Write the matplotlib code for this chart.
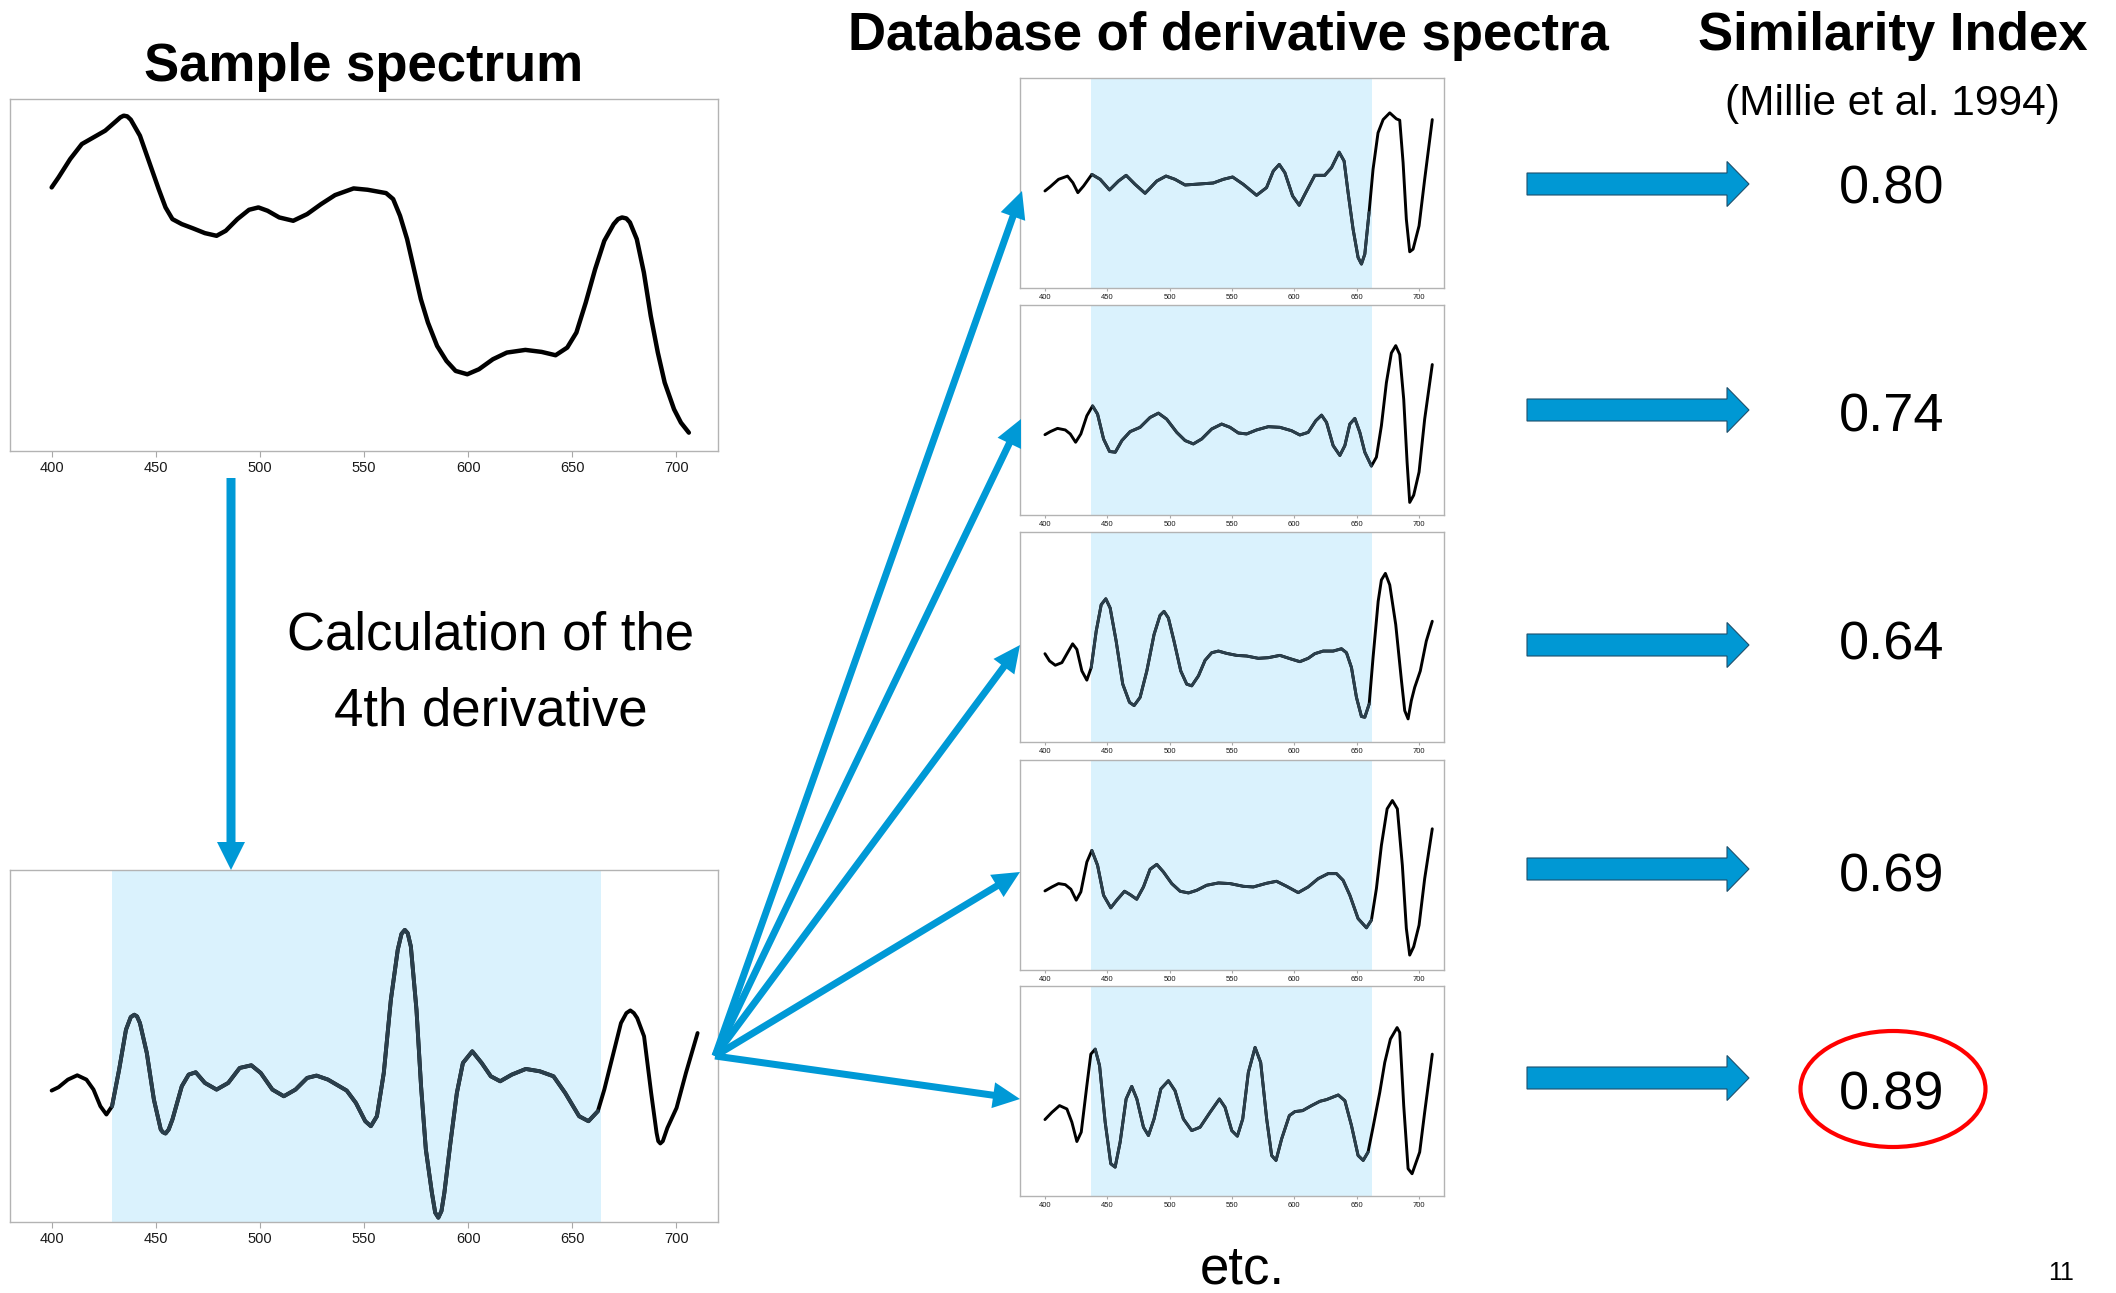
import matplotlib
matplotlib.use("Agg")
import numpy as np
import matplotlib.pyplot as plt
from matplotlib.patches import FancyArrow, Ellipse

# Sample absorption spectrum (wavelength nm, relative absorbance)
wl_sample = [400, 403.3, 408.9, 414.5, 420.1, 425.7, 431.2, 433, 434.6, 436.3, 438, 442.4,
             446.9, 451.4, 454.7, 458, 462.5, 468, 473.6, 479.2, 483.6, 489.2, 494.8, 499.3,
             503.7, 509.3, 516, 522.7, 529.4, 536.1, 545, 551.7, 560.6, 564, 567.3, 570.7,
             574, 577.3, 580.7, 585.1, 589.6, 594, 599.6, 605.2, 611.9, 618.6, 627.5, 635.3,
             642, 647.6, 652, 656.5, 661, 665.4, 669.9, 672, 673.9, 676, 677.7, 681, 684.4,
             687.7, 691.1, 694.4, 698.9, 702.2, 706]
abs_sample = [0.790, 0.82, 0.875, 0.92, 0.94, 0.96, 0.99, 1.0, 1.005, 1.003, 0.993, 0.945,
              0.865, 0.785, 0.73, 0.695, 0.68, 0.667, 0.653, 0.645, 0.66, 0.695, 0.723, 0.73,
              0.72, 0.70, 0.69, 0.71, 0.74, 0.767, 0.787, 0.783, 0.773, 0.755, 0.705, 0.635,
              0.545, 0.455, 0.385, 0.315, 0.27, 0.24, 0.23, 0.245, 0.275, 0.295, 0.303, 0.297,
              0.287, 0.31, 0.355, 0.445, 0.545, 0.63, 0.68, 0.695, 0.70, 0.697, 0.685, 0.635,
              0.535, 0.405, 0.295, 0.205, 0.125, 0.085, 0.055]

# 4th derivative of the sample spectrum
wl_d4 = [400, 403.3, 407.8, 412.3, 416.7, 420.1, 423.4, 426.3, 429, 432.4, 435.7, 438,
         439.7, 441, 442.4, 445.7, 449.1, 452.4, 453.4, 454.7, 456.2, 458, 462.5, 465.8,
         469.2, 473.6, 479.2, 484.8, 490.3, 495.9, 500.4, 506, 511.5, 517.1, 522.7, 527.2,
         532.7, 541.7, 546.1, 550.6, 553.3, 556.2, 559.5, 562.9, 566.2, 568, 569.6, 571,
         572.5, 575.2, 577.4, 579.7, 582.6, 584.2, 585.7, 587.2, 588.6, 591.5, 594.6, 597.5,
         602, 606.5, 610.9, 615.4, 621, 627.7, 634.4, 641, 646.6, 653.3, 657.8, 662.3, 665.4,
         669, 673.4, 676, 677.9, 679.6, 681.2, 684.5, 687.9, 690.5, 691.3, 692.3, 693.5,
         695.7, 700.1, 704.6, 710.2]
d4_sample = [0.007, 0.017, 0.04, 0.053, 0.04, 0.01, -0.04, -0.065, -0.04, 0.07, 0.19, 0.228,
             0.235, 0.23, 0.21, 0.12, -0.02, -0.11, -0.118, -0.122, -0.11, -0.08, 0.02, 0.055,
             0.062, 0.03, 0.01, 0.03, 0.075, 0.083, 0.06, 0.01, -0.01, 0.01, 0.045, 0.052,
             0.04, 0.007, -0.03, -0.085, -0.10, -0.07, 0.06, 0.28, 0.43, 0.478, 0.49, 0.48,
             0.44, 0.25, 0.02, -0.17, -0.30, -0.36, -0.375, -0.355, -0.30, -0.15, 0.0, 0.09,
             0.125, 0.09, 0.05, 0.035, 0.055, 0.072, 0.065, 0.05, 0.0, -0.07, -0.085, -0.055,
             0.01, 0.10, 0.21, 0.24, 0.248, 0.24, 0.225, 0.17, 0.0, -0.12, -0.145, -0.152,
             -0.145, -0.105, -0.045, 0.06, 0.18]

# Reference library: 4th derivative spectra (normalised units)
db1_wl = [400, 404.3, 410.9, 418.1, 422.4, 426.4, 431, 437.6, 444.3, 451.8, 459, 465.1, 472.3,
          480.3, 489.7, 497.1, 504.3, 512.4, 524.4, 535, 543, 550.5, 559.1, 569.7, 577.7,
          583.1, 587.9, 592.4, 598.6, 603.9, 608.4, 616.4, 624.4, 629.8, 635.9, 639.9, 643.1,
          647.1, 651.1, 653.8, 656.5, 659.9, 663.1, 667.1, 671.2, 676.5, 681.8, 684.5, 687.2,
          689.8, 692.5, 695.2, 700, 704.5, 710.6]
db1_d4 = [-0.076, -0.035, 0.035, 0.066, 0.003, -0.092, -0.028, 0.082, 0.035, -0.066, 0.019,
          0.073, -0.013, -0.098, 0.019, 0.066, 0.035, -0.019, -0.009, 0.0, 0.035, 0.057,
          -0.013, -0.117, -0.044, 0.114, 0.177, 0.098, -0.123, -0.212, -0.108, 0.073, 0.073,
          0.146, 0.294, 0.209, -0.092, -0.44, -0.709, -0.772, -0.677, -0.282, 0.13, 0.478,
          0.604, 0.668, 0.611, 0.598, 0.193, -0.345, -0.655, -0.63, -0.408, 0.035, 0.604]

db2_wl = [400, 404.3, 410.1, 416.3, 420.3, 424.6, 428.8, 433.6, 438.2, 442.2, 447, 451.8,
          456.4, 461.7, 468.3, 476.3, 484.3, 491, 497.6, 505.7, 512.4, 519, 525.7, 533.7,
          541.7, 548.4, 555.1, 561.7, 569.7, 579.1, 588.4, 597.7, 604.4, 611.1, 617.2, 621.8,
          625.8, 631.1, 636.5, 640.5, 644.5, 648.5, 652.5, 656.5, 661.8, 665.8, 669.8, 673.8,
          677.8, 681.3, 684.5, 687.7, 690.4, 692.5, 695.7, 700, 704.5, 710.6]
db2_d4 = [-0.235, -0.206, -0.175, -0.19, -0.228, -0.307, -0.228, -0.055, 0.039, -0.039,
          -0.276, -0.395, -0.402, -0.291, -0.206, -0.165, -0.071, -0.03, -0.087, -0.213,
          -0.291, -0.323, -0.276, -0.181, -0.134, -0.165, -0.219, -0.228, -0.19, -0.159,
          -0.165, -0.197, -0.238, -0.213, -0.102, -0.049, -0.118, -0.339, -0.433, -0.339,
          -0.134, -0.08, -0.213, -0.402, -0.534, -0.449, -0.15, 0.26, 0.543, 0.613, 0.528,
          0.102, -0.496, -0.88, -0.811, -0.591, -0.087, 0.433]

db3_wl = [400, 403.7, 408.3, 413.6, 418.1, 422.2, 425.6, 429.6, 433.6, 437.1, 441.1, 445.1,
          448.8, 452.3, 457.1, 462.4, 467.8, 471.5, 476.3, 481.7, 487.5, 492.3, 495.5, 499,
          503.5, 508.9, 513.7, 517.7, 523.1, 528.4, 533.7, 539.1, 545.7, 553.7, 561.7, 571.1,
          579.1, 588.4, 596.4, 604.4, 611.1, 616.4, 623.1, 631.1, 637.8, 641.8, 645.8, 649.8,
          653.8, 656.5, 660, 663.1, 667.2, 669.8, 673, 676.5, 681.3, 685.9, 688.5, 691.2,
          693.8, 696.5, 701, 705.8, 710.6]
db3_d4 = [-0.159, -0.228, -0.269, -0.244, -0.15, -0.065, -0.118, -0.323, -0.411, -0.291,
          0.055, 0.307, 0.364, 0.276, -0.039, -0.449, -0.622, -0.653, -0.575, -0.323, 0.024,
          0.206, 0.244, 0.181, -0.039, -0.323, -0.449, -0.465, -0.37, -0.222, -0.15, -0.134,
          -0.156, -0.175, -0.181, -0.203, -0.197, -0.175, -0.206, -0.235, -0.203, -0.159,
          -0.134, -0.134, -0.112, -0.15, -0.291, -0.575, -0.757, -0.764, -0.638, -0.197,
          0.339, 0.543, 0.606, 0.496, 0.118, -0.417, -0.701, -0.78, -0.606, -0.48, -0.323,
          -0.039, 0.15]

db4_wl = [400, 405.6, 410.9, 416.3, 420.8, 425.1, 428.8, 433.6, 437.6, 442.2, 447, 452.8,
          457.6, 463.8, 468.3, 473.6, 479, 484.3, 489.7, 495, 501.7, 508.4, 515.1, 521.7,
          529.7, 539.1, 548.4, 559.1, 567.1, 577.7, 585.7, 593.8, 603.1, 611.1, 619.1, 627.1,
          633.8, 639.1, 644.5, 651.1, 657.8, 661.8, 665.8, 669.8, 674.4, 678.6, 682.6, 686.6,
          689.8, 692.5, 695.7, 700, 704.5, 710.6]
db4_d4 = [-0.247, -0.209, -0.177, -0.187, -0.231, -0.335, -0.256, 0.028, 0.139, -0.003,
          -0.288, -0.408, -0.335, -0.25, -0.282, -0.326, -0.209, -0.041, 0.006, -0.066,
          -0.177, -0.25, -0.266, -0.241, -0.193, -0.171, -0.177, -0.203, -0.209, -0.174,
          -0.155, -0.203, -0.263, -0.209, -0.13, -0.082, -0.082, -0.146, -0.288, -0.51,
          -0.598, -0.525, -0.225, 0.187, 0.535, 0.614, 0.535, -0.003, -0.604, -0.858,
          -0.778, -0.573, -0.13, 0.345]

db5_wl = [400, 405.6, 411.7, 417.6, 421.6, 425.6, 429.1, 433.6, 436.8, 440.3, 443.8, 448.3,
          452.8, 456.3, 460.3, 465.1, 469.6, 473.7, 479, 483, 487.5, 492.9, 499, 504.3, 511,
          517.7, 524.4, 532.4, 539.9, 544.4, 549.8, 554.3, 558.6, 563.1, 568.5, 573, 577.8,
          581.8, 585.3, 589.8, 596, 600.5, 606.6, 613.8, 620.5, 625.8, 635.2, 640.5, 645.8,
          651.1, 655.2, 659.1, 663.1, 668.5, 672.5, 677, 682.4, 684.5, 687.7, 691.2, 694.4,
          700.5, 704.5, 710.6]
db5_d4 = [-0.272, -0.203, -0.139, -0.171, -0.297, -0.481, -0.392, 0.051, 0.351, 0.399, 0.241,
          -0.297, -0.693, -0.725, -0.487, -0.076, 0.044, -0.076, -0.345, -0.424, -0.266,
          0.019, 0.098, 0.003, -0.266, -0.377, -0.345, -0.203, -0.076, -0.155, -0.377, -0.43,
          -0.266, 0.177, 0.415, 0.272, -0.266, -0.614, -0.661, -0.456, -0.234, -0.196,
          -0.187, -0.139, -0.098, -0.082, -0.038, -0.092, -0.329, -0.614, -0.661, -0.582,
          -0.345, -0.013, 0.272, 0.494, 0.604, 0.557, -0.139, -0.74, -0.788, -0.582, -0.203,
          0.351]

similarity = [0.80, 0.74, 0.64, 0.69, 0.89]
ticks = [400, 450, 500, 550, 600, 650, 700]
window_sample = (429, 664)
window_db = (437, 662)

SHADE = "#daf2fd"
INNER = "#2a3f4c"
BLUE = "#0099d6"
FONT = "Liberation Sans"

W, H = 2116, 1293
fig = plt.figure(figsize=(W / 100, H / 100), dpi=100)
fig.patch.set_facecolor("white")


def add_panel(left, top, right, bottom):
    return fig.add_axes([left / W, 1 - bottom / H, (right - left) / W, (bottom - top) / H])


def style(ax, size, tlen, pad):
    ax.set_xlim(380, 720)
    ax.set_xticks(ticks)
    ax.set_yticks([])
    ax.tick_params(axis="x", labelsize=size, length=tlen, width=0.8, color="#a8a8a8",
                   pad=pad, labelcolor="#1a1a1a")
    for lab in ax.get_xticklabels():
        lab.set_family(FONT)
    for s in ax.spines.values():
        s.set_color("#b3b3b3")
        s.set_linewidth(1.0)


def deriv_line(ax, wl, d4, window, lw):
    wl = np.asarray(wl)
    d4 = np.asarray(d4)
    ax.axvspan(window[0], window[1], color=SHADE, lw=0, zorder=0)
    ax.plot(wl, d4, color="black", lw=lw, solid_joinstyle="round", solid_capstyle="round")
    inside = (wl >= window[0]) & (wl <= window[1])
    ax.plot(wl[inside], d4[inside], color=INNER, lw=lw, solid_joinstyle="round",
            solid_capstyle="round")


# sample spectrum
ax = add_panel(10, 99, 718, 451)
ax.plot(wl_sample, abs_sample, color="black", lw=3.2, solid_joinstyle="round",
        solid_capstyle="round")
ax.set_ylim(0, 1.055)
style(ax, 10.5, 4, 3)

# its 4th derivative
ax = add_panel(10, 870, 718, 1222)
deriv_line(ax, wl_d4, d4_sample, window_sample, 2.8)
ax.set_ylim(-0.388, 0.67)
style(ax, 10.5, 4, 3)

# library panels
db_series = [(db1_wl, db1_d4), (db2_wl, db2_d4), (db3_wl, db3_d4), (db4_wl, db4_d4),
             (db5_wl, db5_d4)]
db_tops = [78, 305, 532, 760, 986]
for top, (wl, d4) in zip(db_tops, db_series):
    ax = add_panel(1020, top, 1444, top + 210)
    deriv_line(ax, wl, d4, window_db, 2.1)
    ax.set_ylim(-1, 1)
    style(ax, 5.5, 2.5, 2)

# overlay in pixel coordinates for arrows and text
ov = fig.add_axes([0, 0, 1, 1], zorder=10)
ov.set_xlim(0, W)
ov.set_ylim(H, 0)
ov.axis("off")

# sample -> derivative
ov.add_patch(FancyArrow(231, 478, 0, 392, width=9, head_width=28, head_length=28,
                        length_includes_head=True, color=BLUE, lw=0))

# derivative -> library
origin = (715, 1056)
tips = [(1022, 191), (1021, 419), (1020, 645), (1020, 872), (1020, 1099)]
for tx, ty in tips:
    ov.add_patch(FancyArrow(origin[0], origin[1], tx - origin[0], ty - origin[1], width=7,
                            head_width=26, head_length=27, length_includes_head=True,
                            color=BLUE, lw=0))

# library -> similarity index
row_arrow_y = [184, 410, 645, 869, 1078]
value_base_y = [204, 431, 659, 891, 1109]
for ay, by, v in zip(row_arrow_y, value_base_y, similarity):
    ov.add_patch(FancyArrow(1527, ay, 222, 0, width=22, head_width=45, head_length=22,
                            length_includes_head=True, facecolor="#0098d4",
                            edgecolor="#1d4f6c", lw=0.8))
    ov.text(1892, by, f"{v:.2f}", ha="center", va="baseline", fontsize=39, family=FONT)

best = int(np.argmax(similarity))
ov.add_patch(Ellipse((1893, value_base_y[best] - 20), 185, 116, fill=False,
                     edgecolor="#ff0000", lw=3))

ov.text(364, 81, "Sample spectrum", ha="center", va="baseline", fontsize=38,
        fontweight="bold", family=FONT)
ov.text(1228, 50, "Database of derivative spectra", ha="center", va="baseline", fontsize=38,
        fontweight="bold", family=FONT)
ov.text(1893, 50, "Similarity Index", ha="center", va="baseline", fontsize=38,
        fontweight="bold", family=FONT)
ov.text(1892, 115, "(Millie et al. 1994)", ha="center", va="baseline", fontsize=30.5,
        family=FONT)
ov.text(491, 649, "Calculation of the", ha="center", va="baseline", fontsize=38, family=FONT)
ov.text(491, 725, "4th derivative", ha="center", va="baseline", fontsize=38, family=FONT)
ov.text(1242, 1284, "etc.", ha="center", va="baseline", fontsize=38, family=FONT)
ov.text(2061, 1280, "11", ha="center", va="baseline", fontsize=18, family=FONT)

fig.savefig("out.png", dpi=100, facecolor="white")
